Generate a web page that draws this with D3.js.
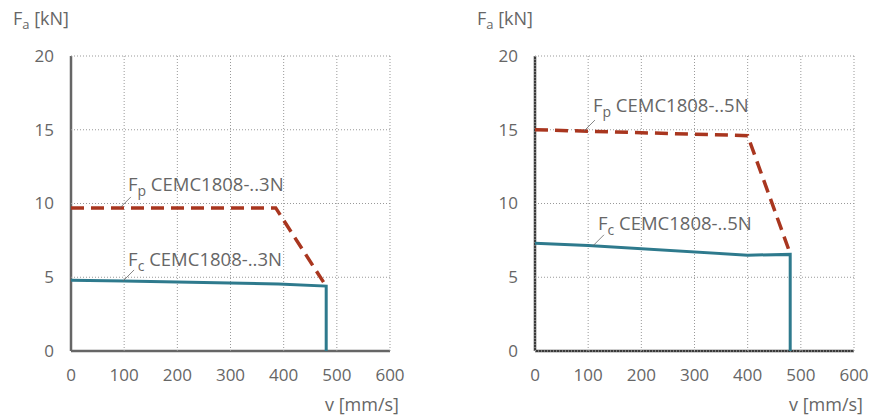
<!DOCTYPE html>
<html>
<head>
<meta charset="utf-8">
<script src="https://cdn.jsdelivr.net/npm/d3@7"></script>
<style>
  body { margin: 0; background: #fff; }
  text { font-family: "Open Sans", sans-serif; fill: #666; }
</style>
</head>
<body>
<div class="chart"></div>
<script>
// tick values
var xTicks = [0, 100, 200, 300, 400, 500, 600];
var yTicks = [0, 5, 10, 15, 20];

// left chart (..3N)
var fp3V = [0, 385, 478];
var fp3F = [9.7, 9.7, 4.5];
var fc3V = [0, 100, 390, 480, 480];
var fc3F = [4.8, 4.75, 4.55, 4.4, 0];

// right chart (..5N)
var fp5V = [0, 100, 400, 480];
var fp5F = [15.0, 14.9, 14.6, 6.6];
var fc5V = [0, 100, 400, 480, 480];
var fc5F = [7.3, 7.15, 6.5, 6.55, 0];

var svgWidth = 882, svgHeight = 419;
var red = "#a9361f", teal = "#2e7a8d";

var svg = d3.select(".chart").append("svg")
  .attr("width", svgWidth)
  .attr("height", svgHeight);

function zip(vs, fs) {
  return vs.map(function(v, i) { return { v: v, f: fs[i] }; });
}

// label anchors: [v where leader starts, text dx, text dy]
var charts = [
  { left: 71, axisColor: "#666", fp: zip(fp3V, fp3F), fc: zip(fc3V, fc3F), tag: "3N",
    fpLab: [92, 8, -17], fcLab: [98, 5, -15] },
  { left: 535, axisColor: "#3a3a3a", fp: zip(fp5V, fp5F), fc: zip(fc5V, fc5F), tag: "5N",
    fpLab: [92, 9, -19], fcLab: [109, 5, -16] }
];

charts.forEach(function(c) {
  var x = d3.scaleLinear().domain([0, 600]).range([c.left, c.left + 319]);
  var y = d3.scaleLinear().domain([0, 20]).range([351, 56]);
  var g = svg.append("g");

  // axes first, grid dotted on top
  g.append("line")
    .attr("x1", x(0)).attr("x2", x(0)).attr("y1", y(20)).attr("y2", y(0))
    .attr("stroke", c.axisColor).attr("stroke-width", 2.5);
  g.append("line")
    .attr("x1", x(0)).attr("x2", x(600)).attr("y1", y(0)).attr("y2", y(0))
    .attr("stroke", c.axisColor).attr("stroke-width", 2.5);

  g.selectAll(".vgrid").data(xTicks.slice(1)).enter().append("line")
    .attr("x1", d => x(d)).attr("x2", d => x(d))
    .attr("y1", y(20)).attr("y2", y(0))
    .attr("stroke", "#999").attr("stroke-width", 1).attr("stroke-dasharray", "1,2");
  g.selectAll(".hgrid").data(yTicks.slice(1)).enter().append("line")
    .attr("x1", x(0)).attr("x2", x(600))
    .attr("y1", d => y(d)).attr("y2", d => y(d))
    .attr("stroke", "#999").attr("stroke-width", 1).attr("stroke-dasharray", "1,2");
  if (c.tag === "5N") {
    g.append("line")
      .attr("x1", x(0)).attr("x2", x(0)).attr("y1", y(20)).attr("y2", y(0))
      .attr("stroke", "#bbb").attr("stroke-width", 1).attr("stroke-dasharray", "1,2");
    g.append("line")
      .attr("x1", x(0)).attr("x2", x(600)).attr("y1", y(0)).attr("y2", y(0))
      .attr("stroke", "#bbb").attr("stroke-width", 1).attr("stroke-dasharray", "1,2");
  }

  // tick labels
  g.selectAll(".xl").data(xTicks).enter().append("text")
    .attr("x", d => x(d)).attr("y", 381)
    .attr("text-anchor", "middle").attr("font-size", 17)
    .text(d => d);
  g.selectAll(".yl").data(yTicks).enter().append("text")
    .attr("x", x(0) - 17).attr("y", d => y(d)).attr("dy", "0.35em")
    .attr("text-anchor", "end").attr("font-size", 17)
    .text(d => d);

  // axis titles
  var fa = g.append("text").attr("x", x(0) - 58).attr("y", 25).attr("font-size", 18);
  fa.append("tspan").text("F");
  fa.append("tspan").attr("font-size", 13).attr("dy", 4).text("a");
  fa.append("tspan").attr("dy", -4).text(" [kN]");
  g.append("text")
    .attr("x", x(600) + 9).attr("y", 411)
    .attr("text-anchor", "end").attr("font-size", 18)
    .text("v [mm/s]");

  var line = d3.line().x(d => x(d.v)).y(d => y(d.f));

  g.append("path").datum(c.fc)
    .attr("d", line).attr("fill", "none")
    .attr("stroke", teal).attr("stroke-width", 3).attr("stroke-linejoin", "miter");
  g.append("path").datum(c.fp)
    .attr("d", line).attr("fill", "none")
    .attr("stroke", red).attr("stroke-width", 3.5).attr("stroke-dasharray", "13,7");

  // annotations
  function interp(data, v) {
    for (var i = 1; i < data.length; i++) {
      if (v <= data[i].v) {
        var a = data[i - 1], b = data[i];
        return a.f + (b.f - a.f) * (v - a.v) / (b.v - a.v);
      }
    }
    return data[data.length - 1].f;
  }
  [["p", c.fp, c.fpLab], ["c", c.fc, c.fcLab]].forEach(function(a) {
    var px = x(a[2][0]), py = y(interp(a[1], a[2][0]));
    g.append("line")
      .attr("x1", px).attr("y1", py)
      .attr("x2", px + 11).attr("y2", py - 11)
      .attr("stroke", "#666").attr("stroke-width", 0.8);
    var t = g.append("text")
      .attr("x", px + a[2][1]).attr("y", py + a[2][2])
      .attr("font-size", 18.5);
    t.append("tspan").text("F");
    t.append("tspan").attr("font-size", 14).attr("dy", 5).text(a[0]);
    t.append("tspan").attr("dy", -5).text(" CEMC1808-.." + c.tag);
  });
});
</script>
</body>
</html>
